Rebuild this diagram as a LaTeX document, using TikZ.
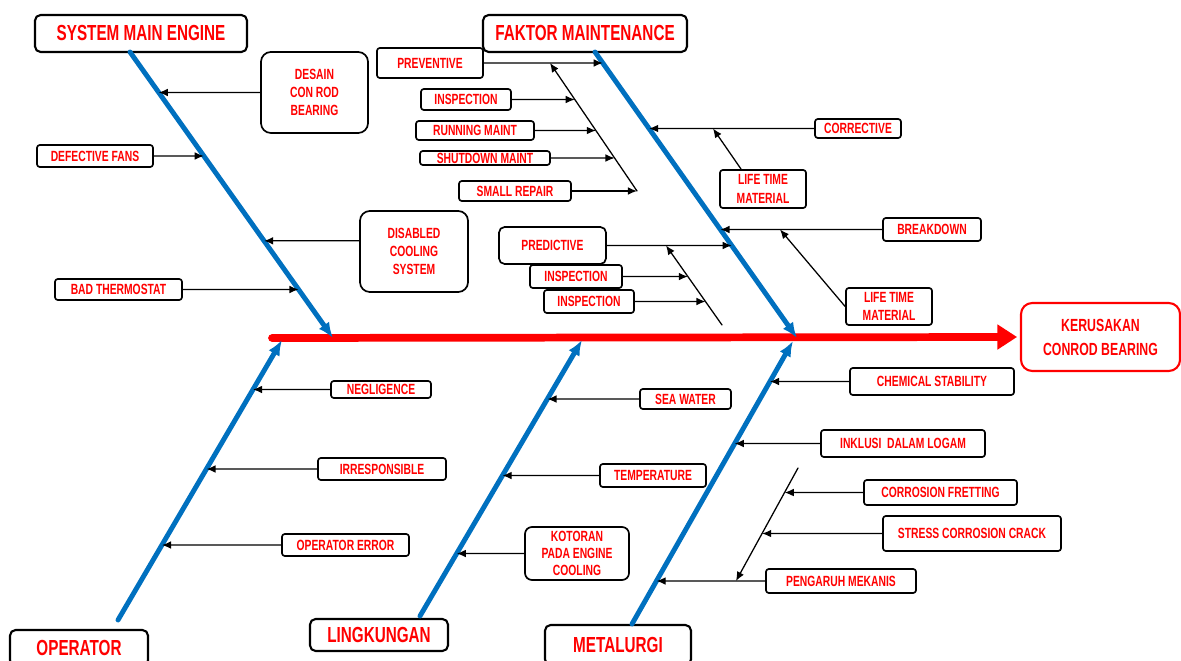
\documentclass[tikz,border=0pt]{standalone}
\usepackage{fontspec}
\setmainfont{Liberation Sans}[FakeStretch=0.7]
\usetikzlibrary{arrows.meta,calc}
\definecolor{fishred}{rgb}{1,0,0}
\definecolor{boneblue}{rgb}{0,0.44,0.75}

\begin{document}
\begin{tikzpicture}[x=0.025cm,y=-0.025cm,line cap=round,line join=round,
    >={Latex[length=6.5pt,width=5.5pt]},
    lbl/.style={draw=black,line width=1.2pt,rounded corners=2pt,fill=white,text=fishred,
        font=\bfseries\fontsize{10.5}{13}\selectfont,align=center,inner sep=1pt},
    head/.style={lbl,line width=1.5pt,rounded corners=4pt,font=\bfseries\fontsize{15.5}{18}\selectfont},
    bone/.style={line width=3.5pt,color=boneblue,-{Latex[length=11pt,width=9pt]}},
    rib/.style={->,line width=0.9pt}]

    \useasboundingbox (0,0) rectangle (1181,661);

    % main heads and effect
    \node[head,minimum width=5.3cm,minimum height=0.925cm] (sme) at (141,33.5) {SYSTEM MAIN ENGINE};
    \node[head,minimum width=5.1cm,minimum height=0.925cm] (fm) at (585,33.5) {FAKTOR MAINTENANCE};
    \node[head,minimum width=3.45cm,minimum height=0.9cm] (op) at (79,648) {OPERATOR};
    \node[head,minimum width=3.45cm,minimum height=0.8cm] (lk) at (379,635) {LINGKUNGAN};
    \node[head,minimum width=3.65cm,minimum height=1.0cm] (mt) at (618,645) {METALURGI};
    \node[lbl,draw=fishred,line width=1.5pt,rounded corners=8pt,minimum width=3.975cm,minimum height=1.7cm,
        font=\bfseries\fontsize{12.5}{17}\selectfont] (eff) at (1100.5,337) {KERUSAKAN\\CONROD BEARING};

    % system main engine
    \node[lbl,rounded corners=7pt,minimum width=2.675cm,minimum height=2.025cm] (dcb) at (314.5,92.5) {DESAIN\\CON ROD\\BEARING};
    \node[lbl,minimum width=2.9cm,minimum height=0.55cm] (dfans) at (95,156) {DEFECTIVE FANS};
    \node[lbl,rounded corners=7pt,minimum width=2.7cm,minimum height=2.025cm] (dcs) at (414,251.5) {DISABLED\\COOLING\\SYSTEM};
    \node[lbl,minimum width=3.175cm,minimum height=0.525cm] (bth) at (118.5,289.5) {BAD THERMOSTAT};

    % faktor maintenance
    \node[lbl,minimum width=2.65cm,minimum height=0.75cm] (prev) at (430,63) {PREVENTIVE};
    \node[lbl,minimum width=2.25cm,minimum height=0.525cm] (insp1) at (466,99.5) {INSPECTION};
    \node[lbl,minimum width=2.95cm,minimum height=0.475cm] (rmaint) at (475,130.5) {RUNNING MAINT};
    \node[lbl,minimum width=3.25cm,minimum height=0.35cm] (smaint) at (485,158) {SHUTDOWN MAINT};
    \node[lbl,minimum width=2.8cm,minimum height=0.5cm] (srep) at (515,191) {SMALL REPAIR};
    \node[lbl,minimum width=2.15cm,minimum height=0.475cm] (corr) at (858,128.5) {CORRECTIVE};
    \node[lbl,minimum width=2.15cm,minimum height=0.95cm] (ltm1) at (763,189) {LIFE TIME\\MATERIAL};
    \node[lbl,minimum width=2.45cm,minimum height=0.575cm] (bdown) at (932,229.5) {BREAKDOWN};
    \node[lbl,minimum width=2.15cm,minimum height=0.925cm] (ltm2) at (889,306.5) {LIFE TIME\\MATERIAL};
    \node[lbl,rounded corners=4pt,minimum width=2.675cm,minimum height=0.925cm] (pred) at (552.5,245.5) {PREDICTIVE};
    \node[lbl,minimum width=2.3cm,minimum height=0.575cm] (insp2) at (576,276.5) {INSPECTION};
    \node[lbl,minimum width=2.25cm,minimum height=0.575cm] (insp3) at (589,301.5) {INSPECTION};

    % operator
    \node[lbl,minimum width=2.5cm,minimum height=0.425cm] (negl) at (381,389.5) {NEGLIGENCE};
    \node[lbl,minimum width=3.2cm,minimum height=0.55cm] (irr) at (382,469) {IRRESPONSIBLE};
    \node[lbl,minimum width=3.175cm,minimum height=0.55cm] (operr) at (345.5,545) {OPERATOR ERROR};

    % lingkungan
    \node[lbl,minimum width=2.275cm,minimum height=0.5cm] (sea) at (685.5,399) {SEA WATER};
    \node[lbl,minimum width=2.65cm,minimum height=0.575cm] (temp) at (653,475.5) {TEMPERATURE};
    \node[lbl,rounded corners=5pt,minimum width=2.6cm,minimum height=1.325cm,
        font=\bfseries\fontsize{10.5}{12}\selectfont] (kot) at (577,553.5) {KOTORAN\\PADA ENGINE\\COOLING};

    % metalurgi
    \node[lbl,minimum width=4.1cm,minimum height=0.675cm] (chem) at (932,381.5) {CHEMICAL STABILITY};
    \node[lbl,minimum width=4.1cm,minimum height=0.675cm] (inkl) at (903,443.5) {INKLUSI~~DALAM LOGAM};
    \node[lbl,minimum width=3.825cm,minimum height=0.625cm] (cfret) at (940.5,492.5) {CORROSION FRETTING};
    \node[lbl,minimum width=4.45cm,minimum height=0.875cm] (scc) at (972,533.5) {STRESS CORROSION CRACK};
    \node[lbl,minimum width=3.75cm,minimum height=0.6cm] (pmek) at (841,581) {PENGARUH MEKANIS};

    % bone ends
    \coordinate (tail) at (272,338);
    \coordinate (b1t) at (130,52);  \coordinate (b1h) at (333,338);
    \coordinate (b2t) at (595,52);  \coordinate (b2h) at (797,338);
    \coordinate (b3t) at (118,620); \coordinate (b3h) at (282,340);
    \coordinate (b4t) at (420,616); \coordinate (b4h) at (582,340);
    \coordinate (b5t) at (632,624); \coordinate (b5h) at (793,341);
    \coordinate (s1t) at (550,63);  \coordinate (s1b) at (637,191);
    \coordinate (s4t) at (666,245.5); \coordinate (s4b) at (722,325);
    \coordinate (s5t) at (798,468); \coordinate (s5b) at (736,581);
    \coordinate (c1) at (713,128.5);
    \coordinate (c2) at (780,229.5);

    % spine and bones
    \draw[line width=5.5pt,color=fishred,-{Triangle[length=14pt,width=17pt]}] (tail) -- ([xshift=-2pt]eff.west);
    \draw[bone] (b1t) -- (b1h);
    \draw[bone] (b2t) -- (b2h);
    \draw[bone] (b3t) -- (b3h);
    \draw[bone] (b4t) -- (b4h);
    \draw[bone] (b5t) -- (b5h);

    % ribs, system main engine
    \draw[rib] (dcb.west) -- (intersection of dcb.west--dcb.east and b1t--b1h);
    \draw[rib] (dfans.east) -- (intersection of dfans.west--dfans.east and b1t--b1h);
    \draw[rib] (dcs.169) -- (intersection of dcs.169--dcs.11 and b1t--b1h);
    \draw[rib] (bth.east) -- (intersection of bth.west--bth.east and b1t--b1h);

    % ribs, faktor maintenance
    \draw[rib] (prev.east) -- (intersection of prev.west--prev.east and b2t--b2h);
    \draw[rib] (s1b) -- (s1t);
    \draw[rib] (insp1.east) -- (intersection of insp1.west--insp1.east and s1t--s1b);
    \draw[rib] (rmaint.east) -- (intersection of rmaint.west--rmaint.east and s1t--s1b);
    \draw[rib] (smaint.east) -- (intersection of smaint.west--smaint.east and s1t--s1b);
    \draw[rib] (srep.east) -- (s1b);
    \draw[rib] (corr.west) -- (intersection of corr.west--corr.east and b2t--b2h);
    \draw[rib] ($(ltm1.north west)!0.25!(ltm1.north east)$) -- (c1);
    \draw[rib] (bdown.west) -- (intersection of bdown.west--bdown.east and b2t--b2h);
    \draw[rib] (ltm2.west) -- (c2);
    \draw[rib] (pred.east) -- (intersection of pred.west--pred.east and b2t--b2h);
    \draw[rib] (s4b) -- (s4t);
    \draw[rib] (insp2.east) -- (intersection of insp2.west--insp2.east and s4t--s4b);
    \draw[rib] (insp3.east) -- (intersection of insp3.west--insp3.east and s4t--s4b);

    % ribs, operator
    \draw[rib] (negl.west) -- (intersection of negl.west--negl.east and b3t--b3h);
    \draw[rib] (irr.west) -- (intersection of irr.west--irr.east and b3t--b3h);
    \draw[rib] (operr.west) -- (intersection of operr.west--operr.east and b3t--b3h);

    % ribs, lingkungan
    \draw[rib] (sea.west) -- (intersection of sea.west--sea.east and b4t--b4h);
    \draw[rib] (temp.west) -- (intersection of temp.west--temp.east and b4t--b4h);
    \draw[rib] (kot.west) -- (intersection of kot.west--kot.east and b4t--b4h);

    % ribs, metalurgi
    \draw[rib] (chem.west) -- (intersection of chem.west--chem.east and b5t--b5h);
    \draw[rib] (inkl.west) -- (intersection of inkl.west--inkl.east and b5t--b5h);
    \draw[rib] (pmek.west) -- (intersection of pmek.west--pmek.east and b5t--b5h);
    \draw[rib] (s5t) -- (s5b);
    \draw[rib] (cfret.west) -- (intersection of cfret.west--cfret.east and s5t--s5b);
    \draw[rib] (scc.west) -- (intersection of scc.west--scc.east and s5t--s5b);
\end{tikzpicture}
\end{document}
